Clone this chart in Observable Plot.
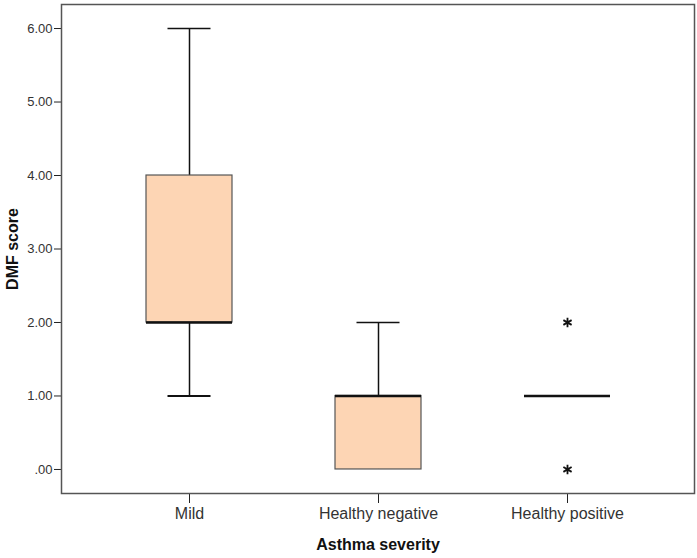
<!DOCTYPE html>
<html>
<head>
<meta charset="utf-8">
<script src="https://cdn.jsdelivr.net/npm/d3@7"></script>
<script src="https://cdn.jsdelivr.net/npm/@observablehq/plot@0.6"></script>
<style>
  html, body { margin: 0; padding: 0; background: #fff; }
  #chart { width: 697px; height: 558px; }
</style>
</head>
<body>
<div id="chart"></div>
<script>
const categories = ["Mild", "Healthy negative", "Healthy positive"];
const lowWhisker = [1, 0, 1];
const q1 = [2, 0, 1];
const median = [2, 1, 1];
const q3 = [4, 1, 1];
const highWhisker = [6, 2, 1];
const outlierCategory = ["Healthy positive", "Healthy positive"];
const outlierValue = [2, 0];
const yTicks = [0, 1, 2, 3, 4, 5, 6];

const stats = categories.map((c, i) => ({
  cat: c, lo: lowWhisker[i], q1: q1[i], med: median[i], q3: q3[i], hi: highWhisker[i]
}));
const outliers = outlierCategory.map((c, i) => ({cat: c, value: outlierValue[i]}));

const fmt = d => d === 0 ? ".00" : d.toFixed(2);

const chart = Plot.plot({
  width: 697,
  height: 558,
  marginLeft: 61,
  marginRight: 3,
  marginTop: 4,
  marginBottom: 65,
  style: {fontFamily: "'Liberation Sans', Arial, sans-serif", background: "#fff"},
  x: {type: "band", domain: categories, paddingInner: 0.545, paddingOuter: 0.447},
  y: {domain: [-0.327, 6.327]},
  marks: [
    Plot.axisY({ticks: yTicks, tickFormat: fmt, tickSize: 7, tickPadding: 2, fontSize: 13, color: "#333", stroke: "#222", label: null}),
    Plot.axisX({tickSize: 10, tickPadding: 4, fontSize: 16, color: "#333", stroke: "#222", label: null}),
    Plot.ruleX(stats, {x: "cat", y1: "lo", y2: "hi", stroke: "#111", strokeWidth: 1.5}),
    Plot.tickY(stats.filter(d => d.lo < d.q1), {x: "cat", y: "lo", inset: 21.5, stroke: "#111", strokeWidth: 2}),
    Plot.tickY(stats.filter(d => d.hi > d.q3), {x: "cat", y: "hi", inset: 21.5, stroke: "#111", strokeWidth: 1.5}),
    Plot.barY(stats, {x: "cat", y1: "q1", y2: "q3", fill: "#FDD5B4", stroke: "#555", strokeWidth: 1.2}),
    Plot.tickY(stats, {x: "cat", y: "med", stroke: "#111", strokeWidth: 2.5}),
    Plot.dot(outliers, {x: "cat", y: "value", symbol: "asterisk", r: 4.5, stroke: "#111", strokeWidth: 1.8}),
    Plot.frame({stroke: "#555", strokeWidth: 1.5}),
    Plot.text(["Asthma severity"], {text: d => d, frameAnchor: "bottom", dy: 56, fontSize: 16, fontWeight: "bold", fill: "#111"}),
    Plot.text(["DMF score"], {text: d => d, frameAnchor: "left", textAnchor: "middle", dx: -49, rotate: -90, fontSize: 16, fontWeight: "bold", fill: "#111"})
  ]
});
document.getElementById("chart").appendChild(chart);
</script>
</body>
</html>
